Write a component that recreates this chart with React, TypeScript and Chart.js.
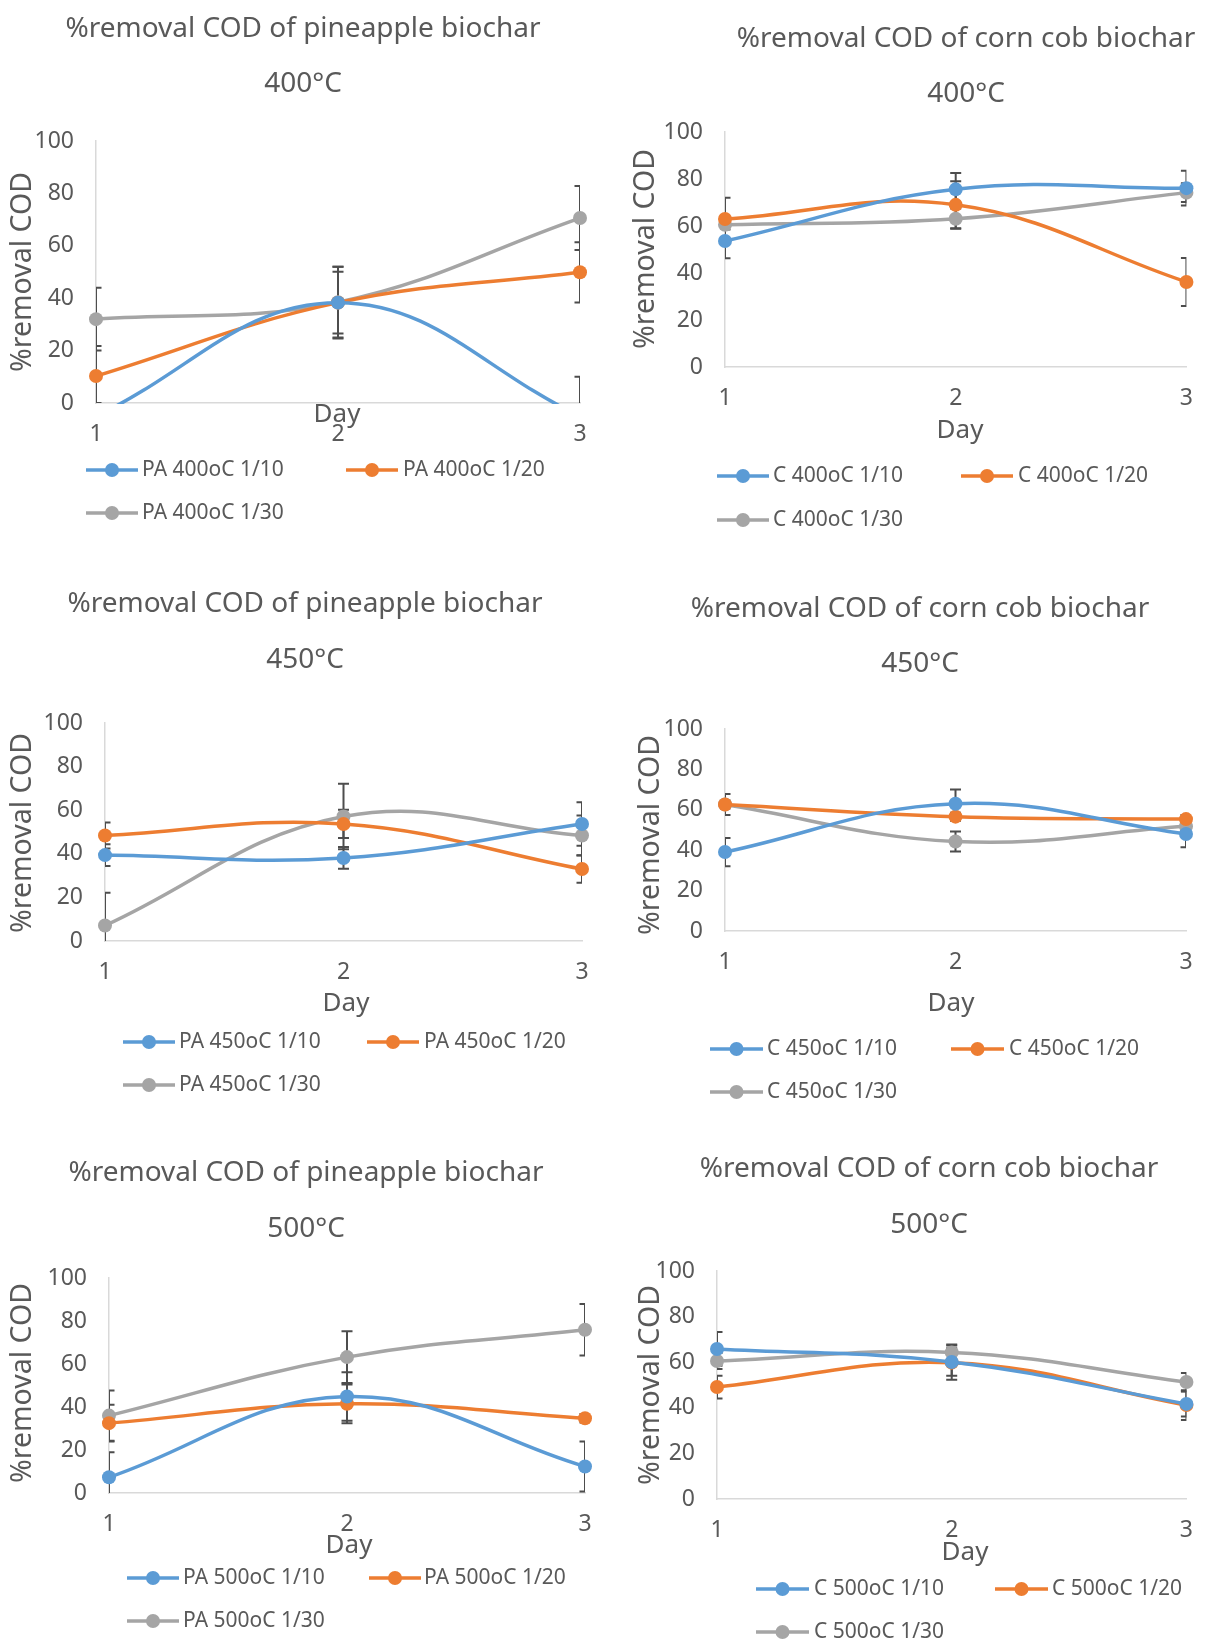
import React, { useEffect, useRef } from "react";
import { Chart, registerables } from "chart.js";

Chart.register(...registerables);

// ---------- data ----------
const days = [1, 2, 3];
const yTickValues = [0, 20, 40, 60, 80, 100];
const yAxisTitle = "%removal COD";
const xAxisTitle = "Day";

const titlePineapple = "%removal COD of pineapple biochar";
const titleCorn = "%removal COD of corn cob biochar";
const temps = ["400°C", "450°C", "500°C"];

// pineapple 400
const pa400Names = ["PA 400oC 1/10", "PA 400oC 1/20", "PA 400oC 1/30"];
const pa400_10 = [-5, 38.3, -5];
const pa400_20 = [10.3, 38.3, 49.9];
const pa400_30 = [32, 38.5, 70.6];
const pa400_10_err = [5, 13.7, 15];
const pa400_20_err = [11.5, 11.8, 11.5];
const pa400_30_err = [12, 13.5, 12.2];

// corn cob 400
const c400Names = ["C 400oC 1/10", "C 400oC 1/20", "C 400oC 1/30"];
const c400_10 = [53.6, 75.6, 76.1];
const c400_20 = [63, 69, 36.2];
const c400_30 = [60.5, 63.1, 74.2];
const c400_10_err = [7.3, 7, 7.4];
const c400_20_err = [9, 10, 10.2];
const c400_30_err = [2, 4.3, 4];

// pineapple 450
const pa450Names = ["PA 450oC 1/10", "PA 450oC 1/20", "PA 450oC 1/30"];
const pa450_10 = [39.4, 38.1, 53.7];
const pa450_20 = [48.4, 53.7, 33];
const pa450_30 = [7.1, 57.1, 48.4];
const pa450_10_err = [5, 5, 10];
const pa450_20_err = [6, 6.5, 6.3];
const pa450_30_err = [15, 15, 9.2];

// corn cob 450
const c450Names = ["C 450oC 1/10", "C 450oC 1/20", "C 450oC 1/30"];
const c450_10 = [39.1, 63, 48];
const c450_20 = [62.6, 56.6, 55.4];
const c450_30 = [62.6, 44.3, 51.8];
const c450_10_err = [7, 7, 6.5];
const c450_20_err = [5.2, 2, 2];
const c450_30_err = [2, 5, 2];

// pineapple 500
const pa500Names = ["PA 500oC 1/10", "PA 500oC 1/20", "PA 500oC 1/30"];
const pa500_10 = [7.3, 44.9, 12.3];
const pa500_20 = [32.5, 41.5, 34.8];
const pa500_30 = [36, 63.2, 75.9];
const pa500_10_err = [11.6, 11.3, 11.6];
const pa500_20_err = [8.6, 9, 2];
const pa500_30_err = [11.7, 12, 12];

// corn cob 500
const c500Names = ["C 500oC 1/10", "C 500oC 1/20", "C 500oC 1/30"];
const c500_10 = [65.8, 60.1, 41.7];
const c500_20 = [49.1, 59.8, 41.2];
const c500_30 = [60.5, 64.3, 51.3];
const c500_10_err = [7.4, 6, 5.5];
const c500_20_err = [5, 7.5, 6.5];
const c500_30_err = [3.5, 3.5, 4];

// ---------- styling / layout ----------
const W = 1211;
const H = 1643;
const YW = 90;
const XH = 60;
const FONT = '"Noto Sans", sans-serif';
const TEXT = "#595959";
const AXIS = "#d9d9d9";
const COLORS = ["#5b9bd5", "#ed7d31", "#a5a5a5"];
const ERR = "#4d4d4d";

type Layout = {
  box: { l: number; r: number; t: number; b: number };
  t1: [number, number];
  t2: [number, number];
  yt: [number, number];
  day: [number, number];
  rows: [number, number];
  lines: [number, number][];
  texts: number[];
};

type Panel = {
  title: string;
  temp: string;
  names: string[];
  values: number[][];
  errors: number[][];
  layout: Layout;
};

const panels: Panel[] = [
  {
    title: titlePineapple,
    temp: temps[0],
    names: pa400Names,
    values: [pa400_10, pa400_20, pa400_30],
    errors: [pa400_10_err, pa400_20_err, pa400_30_err],
    layout: {
      box: { l: 96, r: 580, t: 141, b: 403 },
      t1: [303, 29],
      t2: [303, 84],
      yt: [23, 272],
      day: [337, 415],
      rows: [470, 513],
      lines: [[86, 138], [346, 398]],
      texts: [142, 403],
    },
  },
  {
    title: titleCorn,
    temp: temps[0],
    names: c400Names,
    values: [c400_10, c400_20, c400_30],
    errors: [c400_10_err, c400_20_err, c400_30_err],
    layout: {
      box: { l: 725, r: 1194, t: 132, b: 367 },
      t1: [966, 39],
      t2: [966, 94],
      yt: [646, 249],
      day: [960, 431],
      rows: [476, 520],
      lines: [[717, 769], [961, 1013]],
      texts: [773, 1018],
    },
  },
  {
    title: titlePineapple,
    temp: temps[1],
    names: pa450Names,
    values: [pa450_10, pa450_20, pa450_30],
    errors: [pa450_10_err, pa450_20_err, pa450_30_err],
    layout: {
      box: { l: 105, r: 582, t: 723, b: 941 },
      t1: [305, 604],
      t2: [305, 660],
      yt: [23, 833],
      day: [346, 1004],
      rows: [1042, 1085],
      lines: [[123, 175], [367, 419]],
      texts: [179, 424],
    },
  },
  {
    title: titleCorn,
    temp: temps[1],
    names: c450Names,
    values: [c450_10, c450_20, c450_30],
    errors: [c450_10_err, c450_20_err, c450_30_err],
    layout: {
      box: { l: 725, r: 1186, t: 729, b: 931 },
      t1: [920, 609],
      t2: [920, 664],
      yt: [651, 835],
      day: [951, 1004],
      rows: [1049, 1092],
      lines: [[710, 763], [951, 1004]],
      texts: [767, 1009],
    },
  },
  {
    title: titlePineapple,
    temp: temps[2],
    names: pa500Names,
    values: [pa500_10, pa500_20, pa500_30],
    errors: [pa500_10_err, pa500_20_err, pa500_30_err],
    layout: {
      box: { l: 109, r: 585, t: 1278, b: 1493 },
      t1: [306, 1173],
      t2: [306, 1229],
      yt: [23, 1383],
      day: [349, 1546],
      rows: [1578, 1621],
      lines: [[127, 179], [369, 421]],
      texts: [183, 424],
    },
  },
  {
    title: titleCorn,
    temp: temps[2],
    names: c500Names,
    values: [c500_10, c500_20, c500_30],
    errors: [c500_10_err, c500_20_err, c500_30_err],
    layout: {
      box: { l: 717, r: 1202, t: 1271, b: 1499 },
      t1: [929, 1169],
      t2: [929, 1225],
      yt: [651, 1385],
      day: [965, 1553],
      rows: [1589, 1632],
      lines: [[756, 809], [995, 1048]],
      texts: [814, 1052],
    },
  },
];

const TITLE_SIZE = 28;
const DAY_SIZE = 26;
const Y_TITLE_SIZE = 28.5;
const TICK_SIZE = 23;
const LEGEND_SIZE = 21;
const POINT_R = 7;
const LINE_W = 3.5;

const errorBarPlugin = {
  id: "errorBars",
  beforeDatasetsDraw(chart: any, _args: any, opts: any) {
    const { ctx, chartArea: a, scales } = chart;
    const x = scales.x;
    const y = scales.y;
    const errors: number[][] = opts.errors || [];
    ctx.save();
    ctx.beginPath();
    ctx.rect(a.left, a.top - 30, a.right - a.left, a.bottom - a.top + 30);
    ctx.clip();
    ctx.strokeStyle = ERR;
    ctx.lineWidth = 2;
    chart.data.datasets.forEach((ds: any, i: number) => {
      ds.data.forEach((pt: any, j: number) => {
        const e = errors[i] ? errors[i][j] : 0;
        if (!e) return;
        const px = x.getPixelForValue(pt.x);
        const top = y.getPixelForValue(pt.y + e);
        const bot = y.getPixelForValue(pt.y - e);
        ctx.beginPath();
        ctx.moveTo(px, top);
        ctx.lineTo(px, bot);
        ctx.moveTo(px - 5.5, top);
        ctx.lineTo(px + 5.5, top);
        ctx.moveTo(px - 5.5, bot);
        ctx.lineTo(px + 5.5, bot);
        ctx.stroke();
      });
    });
    ctx.restore();
  },
};

const panelTextPlugin = {
  id: "panelText",
  afterDraw(chart: any, _args: any, opts: any) {
    const { ctx } = chart;
    const L: Layout = opts.layout;
    ctx.save();
    ctx.fillStyle = TEXT;
    ctx.textBaseline = "middle";
    ctx.textAlign = "center";
    ctx.font = `${TITLE_SIZE}px ${FONT}`;
    ctx.fillText(opts.title, L.t1[0], L.t1[1]);
    ctx.fillText(opts.temp, L.t2[0], L.t2[1]);
    ctx.font = `${DAY_SIZE}px ${FONT}`;
    ctx.fillText(opts.xTitle, L.day[0], L.day[1]);
    ctx.font = `${Y_TITLE_SIZE}px ${FONT}`;
    ctx.save();
    ctx.translate(L.yt[0], L.yt[1]);
    ctx.rotate(-Math.PI / 2);
    ctx.fillText(opts.yTitle, 0, 0);
    ctx.restore();
    // legend
    const names: string[] = opts.names;
    names.forEach((n, i) => {
      const row = i < 2 ? 0 : 1;
      const col = i % 2;
      const yy = L.rows[row];
      const [x1, x2] = L.lines[col];
      ctx.strokeStyle = COLORS[i];
      ctx.lineWidth = LINE_W;
      ctx.beginPath();
      ctx.moveTo(x1, yy);
      ctx.lineTo(x2, yy);
      ctx.stroke();
      ctx.fillStyle = COLORS[i];
      ctx.beginPath();
      ctx.arc((x1 + x2) / 2, yy, POINT_R, 0, Math.PI * 2);
      ctx.fill();
      ctx.fillStyle = TEXT;
      ctx.textAlign = "left";
      ctx.font = `${LEGEND_SIZE}px ${FONT}`;
      ctx.fillText(n, L.texts[col], yy);
    });
    ctx.restore();
  },
};

function PanelChart({ p }: { p: Panel }) {
  const ref = useRef<HTMLCanvasElement>(null);
  useEffect(() => {
    const L = p.layout;
    const chart = new Chart(ref.current as HTMLCanvasElement, {
      type: "line",
      data: {
        datasets: p.names.map((n, i) => ({
          label: n,
          data: days.map((d, j) => ({ x: d, y: p.values[i][j] })),
          borderColor: COLORS[i],
          backgroundColor: COLORS[i],
          pointBackgroundColor: COLORS[i],
          pointBorderColor: COLORS[i],
          pointRadius: POINT_R,
          pointBorderWidth: 0,
          borderWidth: LINE_W,
          tension: 0.4,
          clip: { left: 12, right: 12, top: 12, bottom: 1 },
        })),
      },
      options: {
        responsive: false,
        animation: false,
        devicePixelRatio: 1,
        events: [],
        layout: {
          padding: {
            left: L.box.l - YW,
            right: W - L.box.r,
            top: L.box.t,
            bottom: H - L.box.b - XH,
          },
        },
        plugins: {
          legend: { display: false },
          title: { display: false },
          tooltip: { enabled: false },
          errorBars: { errors: p.errors },
          panelText: {
            layout: L,
            title: p.title,
            temp: p.temp,
            names: p.names,
            xTitle: xAxisTitle,
            yTitle: yAxisTitle,
          },
        } as any,
        scales: {
          x: {
            type: "linear",
            min: days[0],
            max: days[days.length - 1],
            afterFit: (s: any) => {
              s.height = XH;
            },
            afterBuildTicks: (s: any) => {
              s.ticks = days.map((v) => ({ value: v }));
            },
            ticks: {
              padding: 18,
              color: TEXT,
              font: { family: FONT, size: TICK_SIZE },
              callback: (v: any) => String(v),
            },
            grid: { display: false, drawTicks: false },
            border: { display: true, color: AXIS, width: 1.5 },
          },
          y: {
            type: "linear",
            min: 0,
            max: 100,
            afterFit: (s: any) => {
              s.width = YW;
            },
            afterBuildTicks: (s: any) => {
              s.ticks = yTickValues.map((v) => ({ value: v }));
            },
            ticks: {
              padding: 22,
              color: TEXT,
              font: { family: FONT, size: TICK_SIZE },
              callback: (v: any) => String(v),
            },
            grid: { display: false, drawTicks: false },
            border: { display: true, color: AXIS, width: 1.5 },
          },
        },
      } as any,
      plugins: [errorBarPlugin, panelTextPlugin],
    });
    return () => chart.destroy();
  }, [p]);
  return (
    <canvas
      ref={ref}
      width={W}
      height={H}
      style={{ position: "absolute", left: 0, top: 0, width: W, height: H }}
    />
  );
}

export default function App() {
  return (
    <div
      style={{
        position: "absolute",
        left: 0,
        top: 0,
        width: W,
        height: H,
        background: "#ffffff",
        overflow: "hidden",
      }}
    >
      {panels.map((p, i) => (
        <PanelChart key={i} p={p} />
      ))}
    </div>
  );
}
